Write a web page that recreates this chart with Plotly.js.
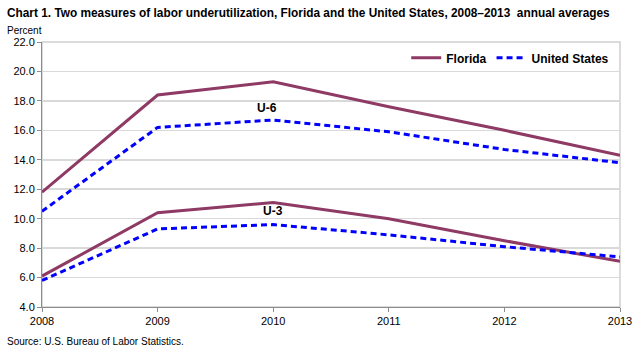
<!DOCTYPE html>
<html>
<head>
<meta charset="utf-8">
<script src="https://cdn.plot.ly/plotly-3.0.1.min.js"></script>
<style>html,body{margin:0;padding:0;background:#fff;}#chart{width:641px;height:358px;}</style>
</head>
<body>
<div id="chart"></div>
<script>
var years = [2008, 2009, 2010, 2011, 2012, 2013];
var floridaU6 = [11.8, 18.4, 19.3, 17.6, 16.0, 14.3];
var usU6 = [10.5, 16.2, 16.7, 15.9, 14.7, 13.8];
var floridaU3 = [6.1, 10.4, 11.1, 10.0, 8.5, 7.1];
var usU3 = [5.8, 9.3, 9.6, 8.9, 8.1, 7.4];
var yTicks = [4, 6, 8, 10, 12, 14, 16, 18, 20, 22];
var yTickText = yTicks.map(function(v){return v.toFixed(1);});

var flColor = '#8e3a64';
var usColor = '#0000ff';
var font = 'Liberation Sans, Arial, sans-serif';

var traces = [
  {x: years, y: floridaU6, mode: 'lines', name: 'Florida', line: {color: flColor, width: 3}, legendgroup: 'fl'},
  {x: years, y: usU6, mode: 'lines', name: 'United States', line: {color: usColor, width: 3, dash: '6px,4px'}, legendgroup: 'us'},
  {x: years, y: floridaU3, mode: 'lines', name: 'Florida', line: {color: flColor, width: 3}, legendgroup: 'fl', showlegend: false},
  {x: years, y: usU3, mode: 'lines', name: 'United States', line: {color: usColor, width: 3, dash: '6px,4px'}, legendgroup: 'us', showlegend: false}
];

var layout = {
  width: 641, height: 358,
  margin: {l: 42, r: 21, t: 42, b: 51},
  paper_bgcolor: '#fff', plot_bgcolor: '#fff',
  font: {family: font, size: 11, color: '#000'},
  showlegend: true,
  legend: {orientation: 'h', x: 0.99, xanchor: 'right', y: 0.995, yanchor: 'top',
           font: {family: font, size: 12, color: '#000', weight: 'bold'}, itemwidth: 30, bgcolor: 'rgba(0,0,0,0)'},
  xaxis: {range: [2008, 2013], tickvals: years, ticktext: years.map(String), showgrid: false, zeroline: false,
          showline: true, linecolor: '#8c8c8c', linewidth: 1, ticks: 'outside', ticklen: 4, tickcolor: '#8c8c8c',
          tickfont: {family: font, size: 11, color: '#000'}, fixedrange: true},
  yaxis: {range: [4, 22], tickvals: yTicks, ticktext: yTickText, showgrid: true, gridcolor: '#d9d9d9', gridwidth: 1.5,
          zeroline: false, showline: true, linecolor: '#8c8c8c', linewidth: 1, ticks: 'outside', ticklen: 4, tickcolor: '#8c8c8c',
          tickfont: {family: font, size: 11, color: '#000'}, fixedrange: true},
  shapes: [
    {type: 'rect', xref: 'paper', yref: 'paper', x0: 0, x1: 1, y0: 0, y1: 1, line: {color: '#d0d0d0', width: 1.5}, layer: 'below'}
  ],
  annotations: [
    {text: '<b>Chart 1. Two measures of labor underutilization, Florida and the United States, 2008–2013  annual averages</b>',
     xref: 'paper', yref: 'paper', x: -0.064, y: 1.109, xanchor: 'left', yanchor: 'middle', showarrow: false,
     font: {family: font, size: 11.85, color: '#000'}},
    {text: 'Percent', xref: 'paper', yref: 'paper', x: -0.064, y: 1.045, xanchor: 'left', yanchor: 'middle', showarrow: false,
     font: {family: font, size: 10, color: '#000'}},
    {text: 'Source: U.S. Bureau of Labor Statistics.', xref: 'paper', yref: 'paper', x: -0.064, y: -0.132, xanchor: 'left', yanchor: 'middle', showarrow: false,
     font: {family: font, size: 10, color: '#000'}},
    {text: '<b>U-6</b>', xref: 'x', yref: 'y', x: 2009.95, y: 17.5, showarrow: false, font: {family: font, size: 12, color: '#000'}},
    {text: '<b>U-3</b>', xref: 'x', yref: 'y', x: 2010.0, y: 10.5, showarrow: false, font: {family: font, size: 12, color: '#000'}}
  ]
};

Plotly.newPlot('chart', traces, layout, {displayModeBar: false, staticPlot: true});
</script>
</body>
</html>
